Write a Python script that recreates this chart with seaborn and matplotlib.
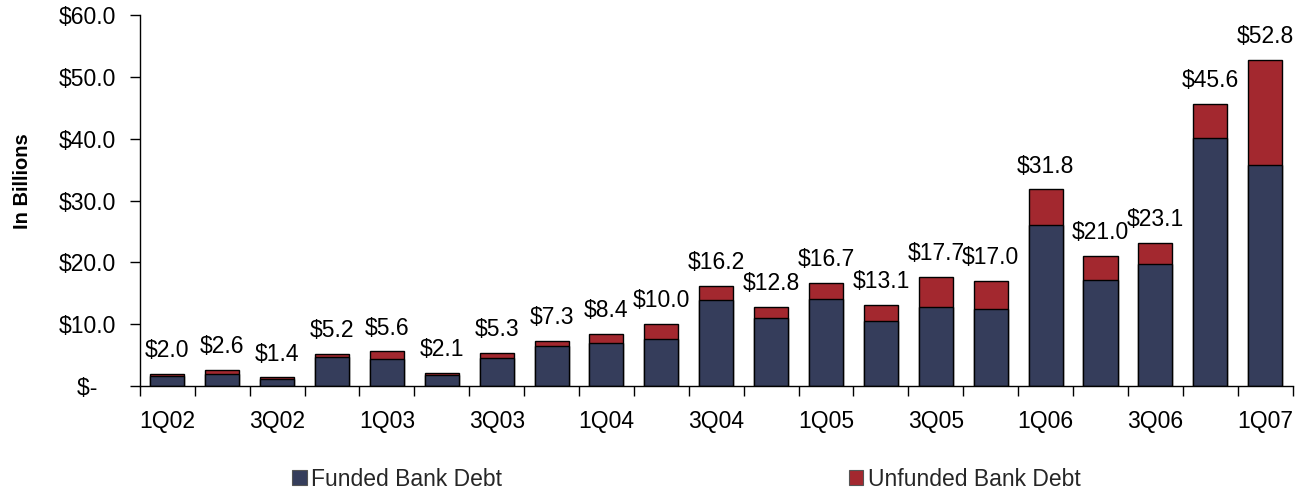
import numpy as np
import pandas as pd
import matplotlib
matplotlib.use("Agg")
import matplotlib.pyplot as plt
import seaborn as sns
from matplotlib.patches import Patch
from matplotlib.ticker import FuncFormatter

# Quarterly bank debt volumes, $ billions
quarters = ["1Q02", "2Q02", "3Q02", "4Q02", "1Q03", "2Q03", "3Q03", "4Q03",
            "1Q04", "2Q04", "3Q04", "4Q04", "1Q05", "2Q05", "3Q05", "4Q05",
            "1Q06", "2Q06", "3Q06", "4Q06", "1Q07"]
total_debt = [2.0, 2.6, 1.4, 5.2, 5.6, 2.1, 5.3, 7.3, 8.4, 10.0, 16.2, 12.8,
              16.7, 13.1, 17.7, 17.0, 31.8, 21.0, 23.1, 45.6, 52.8]
funded_debt = [1.7, 1.9, 1.1, 4.7, 4.4, 1.8, 4.6, 6.4, 6.9, 7.6, 13.9, 11.0,
               14.1, 10.5, 12.7, 12.5, 26.0, 17.2, 19.7, 40.1, 35.8]
series_names = ["Funded Bank Debt", "Unfunded Bank Debt"]

NAVY = "#353D5B"
RED = "#A3282F"

sns.set_theme(style="white")
plt.rcParams["font.family"] = ["Liberation Sans", "DejaVu Sans"]

df = pd.DataFrame({"quarter": quarters, "total": total_debt, "funded": funded_debt})

fig = plt.figure(figsize=(13.07, 4.92), dpi=100)
ax = fig.add_axes([0.107, 0.2154, 0.882, 0.7541])

# Stacked look: full total in red, funded portion drawn over it in navy
sns.barplot(data=df, x="quarter", y="total", order=quarters, color=RED,
            edgecolor="black", linewidth=1.0, width=0.62, saturation=1, ax=ax)
sns.barplot(data=df, x="quarter", y="funded", order=quarters, color=NAVY,
            edgecolor="black", linewidth=1.0, width=0.62, saturation=1, ax=ax)

for i, t in enumerate(total_debt):
    ax.annotate(f"${t:.1f}", (i, t), xytext=(0, 8.5), textcoords="offset points",
                ha="center", va="bottom", fontsize=16.5, color="black")

ax.set_xlim(-0.5, len(quarters) - 0.5)
ax.set_ylim(0, 60)
ax.set_yticks(np.arange(0, 61, 10))
# Accounting-style labels: zero shown as a dash, padded on the right
ax.yaxis.set_major_formatter(FuncFormatter(lambda v, _: "$-   " if v == 0 else f"${v:.1f}"))

ax.set_xticks(np.arange(0, len(quarters), 2))
ax.set_xticklabels(quarters[::2])
ax.set_xticks(np.arange(-0.5, len(quarters), 1), minor=True)
ax.tick_params(axis="x", which="major", length=0, pad=17, labelsize=16.5, colors="black")
ax.tick_params(axis="x", which="minor", length=7, width=1, direction="out", color="black", bottom=True)
ax.tick_params(axis="y", which="major", length=7, width=1, direction="out", color="black",
               left=True, labelsize=16.5, pad=10, labelcolor="black")

ax.set_xlabel("")
ax.set_ylabel("")
for side in ["top", "right"]:
    ax.spines[side].set_visible(False)
for side in ["left", "bottom"]:
    ax.spines[side].set_color("black")
    ax.spines[side].set_linewidth(1.0)
ax.grid(False)

fig.text(0.017, 0.632, "In Billions", rotation=90, ha="center", va="center",
         fontsize=14.5, fontweight="bold", color="black")

handles = [Patch(facecolor=NAVY, edgecolor="#555555", linewidth=0.8),
           Patch(facecolor=RED, edgecolor="#555555", linewidth=0.8)]
fig.legend(handles, series_names, loc="center left", bbox_to_anchor=(292 / 1307, 1 - 479 / 492),
           ncol=2, frameon=False, fontsize=16.5, handlelength=0.65, handleheight=0.65,
           handletextpad=0.2, columnspacing=15.1, borderpad=0, borderaxespad=0)

fig.savefig("out.png", dpi=100, facecolor="white")
